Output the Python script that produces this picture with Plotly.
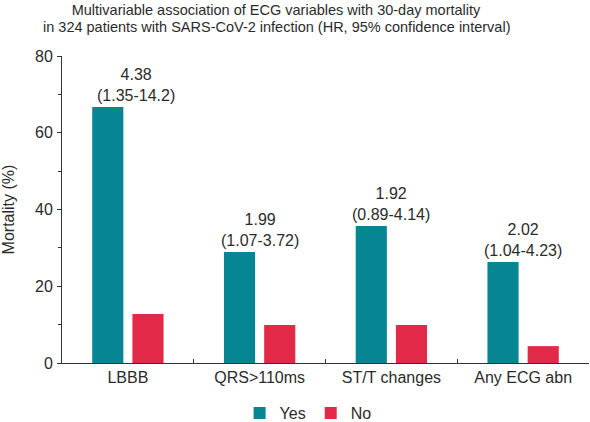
import plotly.graph_objects as go

categories = ["LBBB", "QRS>110ms", "ST/T changes", "Any ECG abn"]
yes_values = [66.7, 28.9, 35.7, 26.3]
no_values = [12.8, 9.9, 9.9, 4.4]
hr_labels = ["4.38<br>(1.35-14.2)", "1.99<br>(1.07-3.72)", "1.92<br>(0.89-4.14)", "2.02<br>(1.04-4.23)"]
y_ticks = [0, 20, 40, 60, 80]
title_line1 = "Multivariable association of ECG variables with 30-day mortality"
title_line2 = "in 324 patients with SARS-CoV-2 infection (HR, 95% confidence interval)"

FONT = "Liberation Sans, Arial, Helvetica, sans-serif"
TXT = "#2b2b2b"

fig = go.Figure()
fig.add_trace(go.Bar(name="Yes", x=categories, y=yes_values, marker_color="#068693",
                     marker_line_width=0))
fig.add_trace(go.Bar(name="No", x=categories, y=no_values, marker_color="#e22a48",
                     marker_line_width=0))

shifts = [8, 0, 0, 0]
for c, v, t, s in zip(categories, yes_values, hr_labels, shifts):
    fig.add_annotation(x=c, y=v, text=t, showarrow=False, yanchor="bottom",
                       yshift=1, xshift=s, font=dict(size=16, color=TXT, family=FONT))

# second title line
fig.add_annotation(text=title_line2, xref="paper", yref="paper",
                   x=(276 - 62) / 527, y=1 + (56 - 27) / 307, xanchor="center", yanchor="middle",
                   showarrow=False, font=dict(size=14.5, color=TXT, family=FONT))

fig.update_layout(
    width=590, height=422,
    margin=dict(l=62, r=1, t=56, b=59, autoexpand=False),
    plot_bgcolor="white", paper_bgcolor="white",
    barmode="group", bargap=0.39, bargroupgap=0.225,
    font=dict(family=FONT, size=16, color=TXT),
    title=dict(text=title_line1,
               x=276 / 590, xanchor="center", xref="container", yref="container",
               y=1 - 10 / 422, yanchor="middle", automargin=False,
               font=dict(size=14.5, color=TXT, family=FONT)),
    showlegend=True,
    legend=dict(orientation="h", x=0.467, xanchor="center", y=-0.108, yanchor="top",
                font=dict(size=16, color=TXT), itemwidth=30, traceorder="normal"),
)
fig.update_yaxes(range=[0, 80], tickvals=y_ticks, showgrid=False, zeroline=False,
                 showline=True, linecolor="#333", linewidth=1, automargin=False,
                 ticks="outside", ticklen=4, tickcolor="#333", ticklabelstandoff=1,
                 minor=dict(tickvals=[10, 30, 50, 70], ticks="outside", ticklen=3, tickcolor="#333"),
                 title=dict(text="Mortality (%)", standoff=27, font=dict(size=16)),
                 tickfont=dict(size=16))
fig.update_xaxes(showgrid=False, showline=True, linecolor="#333", linewidth=1, automargin=False,
                 ticks="inside", tickson="boundaries", ticklen=4, tickcolor="#333",
                 tickfont=dict(size=16))

fig.write_html("out.html", config={"displayModeBar": False},
               post_script="document.body.style.margin='0';")
